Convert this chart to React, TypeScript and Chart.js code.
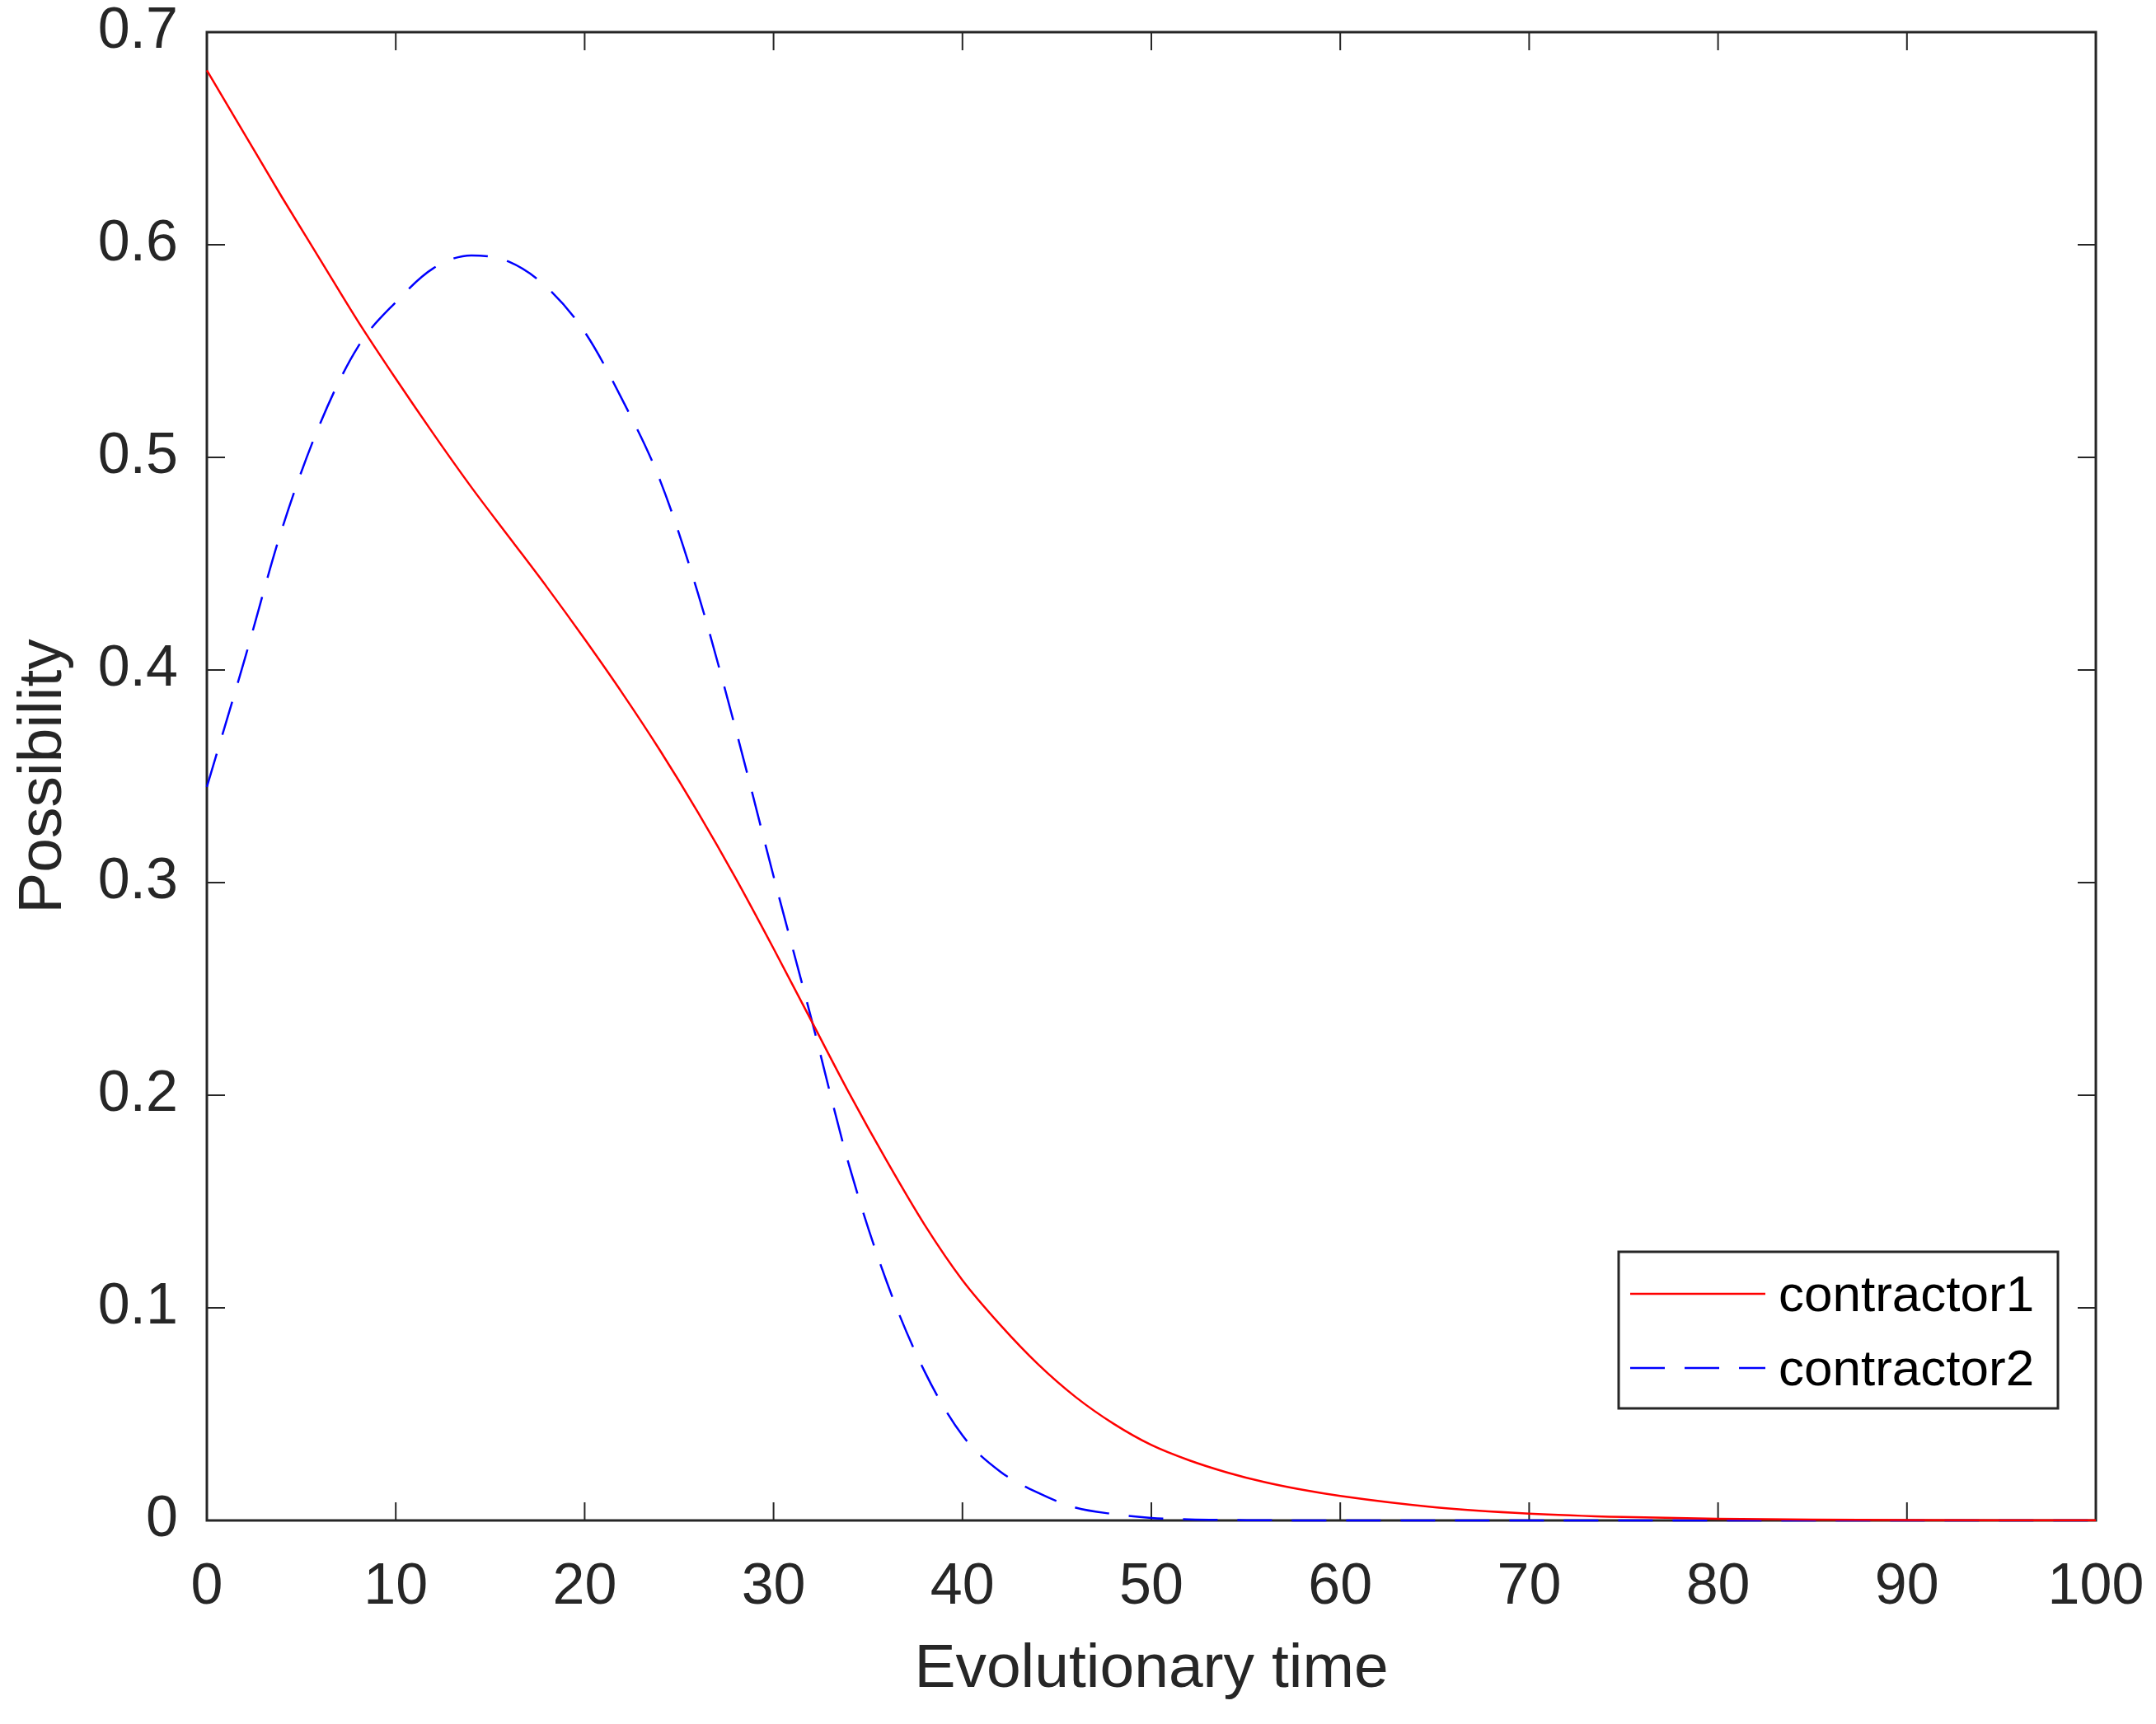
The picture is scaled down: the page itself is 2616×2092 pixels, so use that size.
import { useEffect, useRef } from "react";
import { Chart, registerables } from "chart.js";
import type { Plugin } from "chart.js";

Chart.register(...registerables);

const evolutionaryTime = [
  0, 2, 4, 6, 8, 10, 12, 14, 16, 18, 20, 22, 24, 26, 28, 30, 32, 34, 36, 38, 40,
  42, 44, 46, 48, 50, 52, 54, 56, 58, 60, 65, 70, 75, 80, 85, 90, 95, 100,
];

const contractor1 = [
  0.682, 0.652, 0.622, 0.593, 0.564, 0.537, 0.511, 0.486, 0.4625, 0.439, 0.4145,
  0.389, 0.362, 0.333, 0.302, 0.269, 0.235, 0.201, 0.169, 0.139, 0.113, 0.092,
  0.0735, 0.058, 0.0455, 0.0355, 0.0283, 0.0226, 0.018, 0.0144, 0.0115, 0.0062,
  0.0032, 0.0016, 0.0008, 0.0004, 0.0002, 0.0001, 0.00005,
];

const contractor2 = [
  0.345, 0.405, 0.467, 0.516, 0.552, 0.573, 0.589, 0.595, 0.592, 0.58, 0.559,
  0.527, 0.489, 0.436, 0.372, 0.303, 0.236, 0.167, 0.112, 0.07, 0.04, 0.023,
  0.013, 0.006, 0.003, 0.0012, 0.0005, 0.0002, 0.0001, 0, 0, 0, 0, 0, 0, 0, 0,
  0, 0,
];

const seriesNames = ["contractor1", "contractor2"];
const seriesColors = ["#ff0000", "#0000ff"];
const dashPattern = [42, 24];

const FONT = '"Liberation Sans", Arial, Helvetica, sans-serif';
const INK = "#262626";
const TICK_LEN = 22;

// where the axes box should sit on the 2616x2092 canvas
const PLOT_TOP = 39;
const PLOT_RIGHT = 2543;

// MATLAB style box: frame plus inward ticks on every side
const boxAxes: Plugin<"line"> = {
  id: "boxAxes",
  beforeDatasetsDraw(chart) {
    const { ctx, chartArea: a, scales } = chart;
    ctx.save();
    ctx.strokeStyle = INK;
    ctx.lineWidth = 3;
    ctx.strokeRect(a.left, a.top, a.right - a.left, a.bottom - a.top);
    ctx.lineWidth = 2;
    ctx.beginPath();
    for (const t of scales.x.ticks) {
      const px = scales.x.getPixelForValue(t.value);
      ctx.moveTo(px, a.bottom);
      ctx.lineTo(px, a.bottom - TICK_LEN);
      ctx.moveTo(px, a.top);
      ctx.lineTo(px, a.top + TICK_LEN);
    }
    for (const t of scales.y.ticks) {
      const py = scales.y.getPixelForValue(t.value);
      ctx.moveTo(a.left, py);
      ctx.lineTo(a.left + TICK_LEN, py);
      ctx.moveTo(a.right, py);
      ctx.lineTo(a.right - TICK_LEN, py);
    }
    ctx.stroke();
    ctx.restore();
  },
};

// legend box in the lower right of the plot area
const boxLegend: Plugin<"line"> = {
  id: "boxLegend",
  afterDraw(chart) {
    const { ctx } = chart;
    const x0 = 1964;
    const y0 = 1519;
    const w = 533;
    const h = 190;
    const rows = [1570, 1660];
    ctx.save();
    ctx.fillStyle = "#ffffff";
    ctx.fillRect(x0, y0, w, h);
    ctx.strokeStyle = INK;
    ctx.lineWidth = 3;
    ctx.strokeRect(x0, y0, w, h);
    chart.data.datasets.forEach((ds, i) => {
      const y = rows[i];
      ctx.strokeStyle = ds.borderColor as string;
      ctx.lineWidth = 2.5;
      ctx.setLineDash((ds.borderDash as number[]) || []);
      ctx.beginPath();
      ctx.moveTo(1978, y);
      ctx.lineTo(2142, y);
      ctx.stroke();
      ctx.setLineDash([]);
      ctx.fillStyle = "#000000";
      ctx.font = `62px ${FONT}`;
      ctx.textAlign = "left";
      ctx.textBaseline = "middle";
      ctx.fillText(ds.label as string, 2158, y + 4);
    });
    ctx.restore();
  },
};

// the labels hanging past the box ends must not push the box inwards
function dropLabelPadding(scale: any) {
  scale.paddingTop = 0;
  scale.paddingBottom = 0;
  scale.paddingLeft = 0;
  scale.paddingRight = 0;
}

export default function App() {
  const canvasRef = useRef<HTMLCanvasElement>(null);

  useEffect(() => {
    if (!canvasRef.current) return;
    const padding = { top: PLOT_TOP, right: 2616 - PLOT_RIGHT, left: 0, bottom: 0 };
    const chart = new Chart(canvasRef.current, {
      type: "line",
      data: {
        datasets: [contractor1, contractor2].map((values, i) => ({
          label: seriesNames[i],
          data: evolutionaryTime.map((t, j) => ({ x: t, y: values[j] })),
          borderColor: seriesColors[i],
          borderWidth: 2.5,
          borderDash: i === 1 ? dashPattern : [],
          pointRadius: 0,
          cubicInterpolationMode: "monotone" as const,
          fill: false,
          clip: 6,
        })),
      },
      options: {
        animation: false,
        responsive: false,
        devicePixelRatio: 1,
        layout: { padding },
        plugins: {
          legend: { display: false },
          tooltip: { enabled: false },
        },
        scales: {
          x: {
            type: "linear",
            min: 0,
            max: 100,
            grid: { display: false, drawTicks: false },
            border: { display: false },
            ticks: {
              stepSize: 10,
              padding: 47,
              color: INK,
              maxRotation: 0,
              font: { family: FONT, size: 70, lineHeight: 1 },
            },
            title: {
              display: true,
              text: "Evolutionary time",
              color: INK,
              padding: { top: 0, bottom: 28 },
              font: { family: FONT, size: 75, lineHeight: 1 },
            },
            afterFit(scale) {
              scale.height = 247;
              dropLabelPadding(scale);
            },
          },
          y: {
            type: "linear",
            min: 0,
            max: 0.7,
            grid: { display: false, drawTicks: false },
            border: { display: false },
            ticks: {
              stepSize: 0.1,
              padding: 35,
              color: INK,
              font: { family: FONT, size: 70, lineHeight: 1 },
              callback: (v) => String(Number(Number(v).toFixed(1))),
            },
            title: {
              display: true,
              text: "Possibility",
              color: INK,
              padding: { top: 16, bottom: 0 },
              font: { family: FONT, size: 75, lineHeight: 1 },
            },
            afterFit(scale) {
              scale.width = 251;
              dropLabelPadding(scale);
            },
          },
        },
      },
      plugins: [boxAxes, boxLegend],
    });

    // small correction pass in case the layout still lands off target
    for (let k = 0; k < 2; k++) {
      const a = chart.chartArea;
      const dTop = PLOT_TOP - a.top;
      const dRight = a.right - PLOT_RIGHT;
      if (Math.abs(dTop) < 0.5 && Math.abs(dRight) < 0.5) break;
      padding.top += dTop;
      padding.right += dRight;
      chart.options.layout!.padding = { ...padding };
      chart.update();
    }

    return () => chart.destroy();
  }, []);

  return (
    <div
      style={{
        position: "absolute",
        left: 0,
        top: 0,
        width: 2616,
        height: 2092,
        background: "#ffffff",
      }}
    >
      <canvas ref={canvasRef} width={2616} height={2092} />
    </div>
  );
}
